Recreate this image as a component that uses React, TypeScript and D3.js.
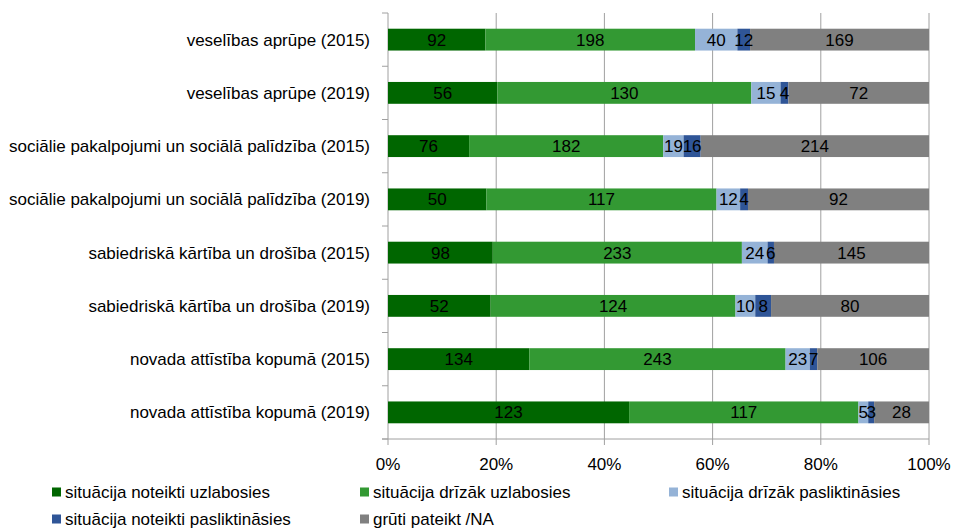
import React from "react";
import * as d3 from "d3";

const categories = [
  "veselības aprūpe (2015)",
  "veselības aprūpe (2019)",
  "sociālie pakalpojumi un sociālā palīdzība (2015)",
  "sociālie pakalpojumi un sociālā palīdzība (2019)",
  "sabiedriskā kārtība un drošība (2015)",
  "sabiedriskā kārtība un drošība (2019)",
  "novada attīstība kopumā (2015)",
  "novada attīstība kopumā (2019)",
];

const seriesNames = [
  "situācija noteikti uzlabosies",
  "situācija drīzāk uzlabosies",
  "situācija drīzāk pasliktināsies",
  "situācija noteikti pasliktināsies",
  "grūti pateikt /NA",
];

const noteiktiUzlabosies = [92, 56, 76, 50, 98, 52, 134, 123];
const drizakUzlabosies = [198, 130, 182, 117, 233, 124, 243, 117];
const drizakPasliktinasies = [40, 15, 19, 12, 24, 10, 23, 5];
const noteiktiPasliktinasies = [12, 4, 16, 4, 6, 8, 7, 3];
const grutiPateikt = [169, 72, 214, 92, 145, 80, 106, 28];

const xTickValues = [0, 0.2, 0.4, 0.6, 0.8, 1];

const colors = ["#006600", "#339933", "#95b3d7", "#2f5597", "#808080"];

const seriesValues = [
  noteiktiUzlabosies,
  drizakUzlabosies,
  drizakPasliktinasies,
  noteiktiPasliktinasies,
  grutiPateikt,
];

const FONT = "'Liberation Sans', Arial, sans-serif";
const FS = 17;

export default function App() {
  const left = 388;
  const right = 929;
  const top = 13;
  const bottom = 439;

  const x = d3.scaleLinear().domain([0, 1]).range([left, right]);
  const y = d3
    .scaleBand<string>()
    .domain(categories)
    .range([top, bottom])
    .paddingInner(0.59)
    .paddingOuter(0.295);

  const rows = categories.map((c, i) => {
    const vals = seriesValues.map((s) => s[i]);
    const total = d3.sum(vals);
    let acc = 0;
    const segs = vals.map((v, k) => {
      const x0 = acc / total;
      acc += v;
      const x1 = acc / total;
      return { v, k, x0, x1 };
    });
    return { c, segs };
  });

  const step = (bottom - top) / categories.length;
  const boundaries = d3.range(categories.length + 1).map((i) => top + i * step);

  const legendItems = [
    { k: 0, x: 52, y: 492 },
    { k: 1, x: 360, y: 492 },
    { k: 2, x: 669, y: 492 },
    { k: 3, x: 52, y: 519 },
    { k: 4, x: 360, y: 519 },
  ];

  return (
    <svg
      width={956}
      height={529}
      style={{ position: "absolute", left: 0, top: 0, background: "#fff" }}
      fontFamily={FONT}
    >
      <rect x={0} y={0} width={956} height={529} fill="#fff" />
      {/* gridlines */}
      {xTickValues.slice(1).map((t) => (
        <line
          key={"g" + t}
          x1={x(t)}
          x2={x(t)}
          y1={top}
          y2={bottom + 6}
          stroke="#a0a0a0"
          strokeWidth={1}
        />
      ))}
      {/* y axis */}
      <line x1={left} x2={left} y1={top} y2={bottom + 6} stroke="#a0a0a0" />
      {boundaries.map((b, i) => (
        <line key={"yt" + i} x1={left - 6} x2={left} y1={b} y2={b} stroke="#a0a0a0" />
      ))}
      {/* x axis */}
      <line x1={left - 6} x2={right} y1={bottom} y2={bottom} stroke="#a0a0a0" />
      {/* bars */}
      {rows.map((r) => (
        <g key={r.c}>
          {r.segs.map((s) => (
            <rect
              key={s.k}
              x={x(s.x0)}
              width={x(s.x1) - x(s.x0)}
              y={y(r.c)!}
              height={y.bandwidth()}
              fill={colors[s.k]}
            />
          ))}
          {r.segs.map((s) => (
            <text
              key={"t" + s.k}
              x={(x(s.x0) + x(s.x1)) / 2}
              y={y(r.c)! + y.bandwidth() / 2}
              dy="0.36em"
              textAnchor="middle"
              fontSize={FS}
              fill="#000"
            >
              {s.v}
            </text>
          ))}
          <text
            x={370}
            y={y(r.c)! + y.bandwidth() / 2}
            dy="0.36em"
            textAnchor="end"
            fontSize={FS}
            fill="#000"
          >
            {r.c}
          </text>
        </g>
      ))}
      {/* x tick labels */}
      {xTickValues.map((t) => (
        <text
          key={"xl" + t}
          x={x(t)}
          y={470}
          textAnchor="middle"
          fontSize={FS}
          fill="#000"
        >
          {d3.format(".0%")(t)}
        </text>
      ))}
      {/* legend */}
      {legendItems.map((it) => (
        <g key={"l" + it.k}>
          <rect x={it.x} y={it.y - 4.5} width={9} height={9} fill={colors[it.k]} />
          <text x={it.x + 13} y={it.y} dy="0.36em" fontSize={FS} fill="#000">
            {seriesNames[it.k]}
          </text>
        </g>
      ))}
    </svg>
  );
}
